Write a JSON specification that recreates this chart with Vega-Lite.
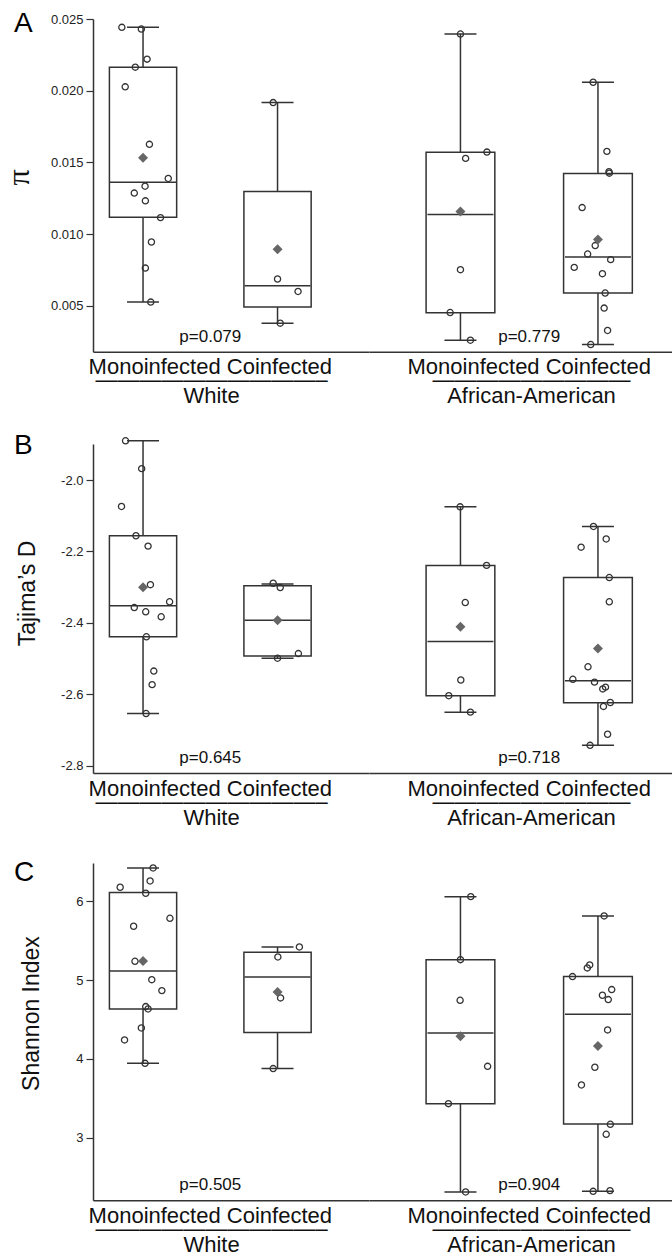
{
"$schema": "https://vega.github.io/schema/vega-lite/v6.json",
"background": "white",
"padding": {"left": 2, "top": 10, "right": 0, "bottom": 0},
"spacing": 25,
"config": {"font": "Liberation Sans", "view": {"stroke": null}, "axis": {"grid": false}},
"datasets": {
"points": [
{"panel":"A","race":"White","inf":"Monoinfected","v":0.02442,"jit":-0.63},
{"panel":"A","race":"White","inf":"Monoinfected","v":0.0243,"jit":-0.05},
{"panel":"A","race":"White","inf":"Monoinfected","v":0.0222,"jit":0.12},
{"panel":"A","race":"White","inf":"Monoinfected","v":0.02164,"jit":-0.23},
{"panel":"A","race":"White","inf":"Monoinfected","v":0.02027,"jit":-0.53},
{"panel":"A","race":"White","inf":"Monoinfected","v":0.01626,"jit":0.19},
{"panel":"A","race":"White","inf":"Monoinfected","v":0.01388,"jit":0.75},
{"panel":"A","race":"White","inf":"Monoinfected","v":0.01334,"jit":0.06},
{"panel":"A","race":"White","inf":"Monoinfected","v":0.01286,"jit":-0.26},
{"panel":"A","race":"White","inf":"Monoinfected","v":0.01232,"jit":0.07},
{"panel":"A","race":"White","inf":"Monoinfected","v":0.01115,"jit":0.52},
{"panel":"A","race":"White","inf":"Monoinfected","v":0.00945,"jit":0.25},
{"panel":"A","race":"White","inf":"Monoinfected","v":0.00763,"jit":0.07},
{"panel":"A","race":"White","inf":"Monoinfected","v":0.00526,"jit":0.23},
{"panel":"A","race":"White","inf":"Coinfected","v":0.01917,"jit":-0.13},
{"panel":"A","race":"White","inf":"Coinfected","v":0.00687,"jit":0.0},
{"panel":"A","race":"White","inf":"Coinfected","v":0.006,"jit":0.61},
{"panel":"A","race":"White","inf":"Coinfected","v":0.00379,"jit":0.08},
{"panel":"A","race":"African-American","inf":"Monoinfected","v":0.02395,"jit":0.0},
{"panel":"A","race":"African-American","inf":"Monoinfected","v":0.01572,"jit":0.77},
{"panel":"A","race":"African-American","inf":"Monoinfected","v":0.01528,"jit":0.15},
{"panel":"A","race":"African-American","inf":"Monoinfected","v":0.00752,"jit":0.0},
{"panel":"A","race":"African-American","inf":"Monoinfected","v":0.00453,"jit":-0.3},
{"panel":"A","race":"African-American","inf":"Monoinfected","v":0.0026,"jit":0.29},
{"panel":"A","race":"African-American","inf":"Coinfected","v":0.02059,"jit":-0.14},
{"panel":"A","race":"African-American","inf":"Coinfected","v":0.01577,"jit":0.26},
{"panel":"A","race":"African-American","inf":"Coinfected","v":0.01435,"jit":0.32},
{"panel":"A","race":"African-American","inf":"Coinfected","v":0.01425,"jit":0.33},
{"panel":"A","race":"African-American","inf":"Coinfected","v":0.01185,"jit":-0.46},
{"panel":"A","race":"African-American","inf":"Coinfected","v":0.0092,"jit":-0.08},
{"panel":"A","race":"African-American","inf":"Coinfected","v":0.00861,"jit":-0.3},
{"panel":"A","race":"African-American","inf":"Coinfected","v":0.00822,"jit":0.37},
{"panel":"A","race":"African-American","inf":"Coinfected","v":0.00768,"jit":-0.69},
{"panel":"A","race":"African-American","inf":"Coinfected","v":0.00724,"jit":0.13},
{"panel":"A","race":"African-American","inf":"Coinfected","v":0.00589,"jit":0.21},
{"panel":"A","race":"African-American","inf":"Coinfected","v":0.00484,"jit":0.18},
{"panel":"A","race":"African-American","inf":"Coinfected","v":0.00328,"jit":0.28},
{"panel":"A","race":"African-American","inf":"Coinfected","v":0.0023,"jit":-0.21},
{"panel":"B","race":"White","inf":"Monoinfected","v":-1.89,"jit":-0.52},
{"panel":"B","race":"White","inf":"Monoinfected","v":-1.968,"jit":-0.04},
{"panel":"B","race":"White","inf":"Monoinfected","v":-2.074,"jit":-0.64},
{"panel":"B","race":"White","inf":"Monoinfected","v":-2.156,"jit":-0.21},
{"panel":"B","race":"White","inf":"Monoinfected","v":-2.185,"jit":0.15},
{"panel":"B","race":"White","inf":"Monoinfected","v":-2.293,"jit":0.22},
{"panel":"B","race":"White","inf":"Monoinfected","v":-2.357,"jit":-0.26},
{"panel":"B","race":"White","inf":"Monoinfected","v":-2.369,"jit":0.08},
{"panel":"B","race":"White","inf":"Monoinfected","v":-2.341,"jit":0.79},
{"panel":"B","race":"White","inf":"Monoinfected","v":-2.383,"jit":0.54},
{"panel":"B","race":"White","inf":"Monoinfected","v":-2.439,"jit":0.1},
{"panel":"B","race":"White","inf":"Monoinfected","v":-2.535,"jit":0.32},
{"panel":"B","race":"White","inf":"Monoinfected","v":-2.573,"jit":0.27},
{"panel":"B","race":"White","inf":"Monoinfected","v":-2.654,"jit":0.09},
{"panel":"B","race":"White","inf":"Coinfected","v":-2.289,"jit":-0.13},
{"panel":"B","race":"White","inf":"Coinfected","v":-2.301,"jit":0.08},
{"panel":"B","race":"White","inf":"Coinfected","v":-2.486,"jit":0.62},
{"panel":"B","race":"White","inf":"Coinfected","v":-2.499,"jit":0.0},
{"panel":"B","race":"African-American","inf":"Monoinfected","v":-2.075,"jit":-0.01},
{"panel":"B","race":"African-American","inf":"Monoinfected","v":-2.239,"jit":0.76},
{"panel":"B","race":"African-American","inf":"Monoinfected","v":-2.343,"jit":0.14},
{"panel":"B","race":"African-American","inf":"Monoinfected","v":-2.56,"jit":0.01},
{"panel":"B","race":"African-American","inf":"Monoinfected","v":-2.604,"jit":-0.34},
{"panel":"B","race":"African-American","inf":"Monoinfected","v":-2.65,"jit":0.29},
{"panel":"B","race":"African-American","inf":"Coinfected","v":-2.13,"jit":-0.13},
{"panel":"B","race":"African-American","inf":"Coinfected","v":-2.165,"jit":0.24},
{"panel":"B","race":"African-American","inf":"Coinfected","v":-2.188,"jit":-0.49},
{"panel":"B","race":"African-American","inf":"Coinfected","v":-2.273,"jit":0.33},
{"panel":"B","race":"African-American","inf":"Coinfected","v":-2.341,"jit":0.33},
{"panel":"B","race":"African-American","inf":"Coinfected","v":-2.523,"jit":-0.29},
{"panel":"B","race":"African-American","inf":"Coinfected","v":-2.558,"jit":-0.73},
{"panel":"B","race":"African-American","inf":"Coinfected","v":-2.566,"jit":-0.1},
{"panel":"B","race":"African-American","inf":"Coinfected","v":-2.58,"jit":0.22},
{"panel":"B","race":"African-American","inf":"Coinfected","v":-2.585,"jit":0.14},
{"panel":"B","race":"African-American","inf":"Coinfected","v":-2.623,"jit":0.36},
{"panel":"B","race":"African-American","inf":"Coinfected","v":-2.634,"jit":0.16},
{"panel":"B","race":"African-American","inf":"Coinfected","v":-2.712,"jit":0.28},
{"panel":"B","race":"African-American","inf":"Coinfected","v":-2.743,"jit":-0.23},
{"panel":"C","race":"White","inf":"Monoinfected","v":6.423,"jit":0.3},
{"panel":"C","race":"White","inf":"Monoinfected","v":6.258,"jit":0.21},
{"panel":"C","race":"White","inf":"Monoinfected","v":6.178,"jit":-0.68},
{"panel":"C","race":"White","inf":"Monoinfected","v":6.102,"jit":0.08},
{"panel":"C","race":"White","inf":"Monoinfected","v":5.784,"jit":0.8},
{"panel":"C","race":"White","inf":"Monoinfected","v":5.683,"jit":-0.28},
{"panel":"C","race":"White","inf":"Monoinfected","v":5.238,"jit":-0.24},
{"panel":"C","race":"White","inf":"Monoinfected","v":5.005,"jit":0.26},
{"panel":"C","race":"White","inf":"Monoinfected","v":4.866,"jit":0.56},
{"panel":"C","race":"White","inf":"Monoinfected","v":4.663,"jit":0.08},
{"panel":"C","race":"White","inf":"Monoinfected","v":4.633,"jit":0.15},
{"panel":"C","race":"White","inf":"Monoinfected","v":4.392,"jit":-0.05},
{"panel":"C","race":"White","inf":"Monoinfected","v":4.24,"jit":-0.55},
{"panel":"C","race":"White","inf":"Monoinfected","v":3.943,"jit":0.06},
{"panel":"C","race":"White","inf":"Coinfected","v":5.42,"jit":0.65},
{"panel":"C","race":"White","inf":"Coinfected","v":5.293,"jit":0.01},
{"panel":"C","race":"White","inf":"Coinfected","v":4.773,"jit":0.09},
{"panel":"C","race":"White","inf":"Coinfected","v":3.876,"jit":-0.13},
{"panel":"C","race":"African-American","inf":"Monoinfected","v":6.059,"jit":0.3},
{"panel":"C","race":"African-American","inf":"Monoinfected","v":5.259,"jit":0.0},
{"panel":"C","race":"African-American","inf":"Monoinfected","v":4.743,"jit":-0.01},
{"panel":"C","race":"African-American","inf":"Monoinfected","v":3.905,"jit":0.79},
{"panel":"C","race":"African-American","inf":"Monoinfected","v":3.431,"jit":-0.35},
{"panel":"C","race":"African-American","inf":"Monoinfected","v":2.31,"jit":0.15},
{"panel":"C","race":"African-American","inf":"Coinfected","v":5.814,"jit":0.18},
{"panel":"C","race":"African-American","inf":"Coinfected","v":5.192,"jit":-0.24},
{"panel":"C","race":"African-American","inf":"Coinfected","v":5.154,"jit":-0.31},
{"panel":"C","race":"African-American","inf":"Coinfected","v":5.044,"jit":-0.74},
{"panel":"C","race":"African-American","inf":"Coinfected","v":4.879,"jit":0.4},
{"panel":"C","race":"African-American","inf":"Coinfected","v":4.807,"jit":0.13},
{"panel":"C","race":"African-American","inf":"Coinfected","v":4.752,"jit":0.3},
{"panel":"C","race":"African-American","inf":"Coinfected","v":4.367,"jit":0.28},
{"panel":"C","race":"African-American","inf":"Coinfected","v":3.893,"jit":-0.09},
{"panel":"C","race":"African-American","inf":"Coinfected","v":3.668,"jit":-0.48},
{"panel":"C","race":"African-American","inf":"Coinfected","v":3.169,"jit":0.36},
{"panel":"C","race":"African-American","inf":"Coinfected","v":3.042,"jit":0.24},
{"panel":"C","race":"African-American","inf":"Coinfected","v":2.318,"jit":-0.14},
{"panel":"C","race":"African-American","inf":"Coinfected","v":2.327,"jit":0.35}
],
"stats": [
{"panel":"A","race":"White","inf":"Monoinfected","lo":0.00526,"q1":0.01118,"med":0.01362,"q3":0.02164,"hi":0.02442,"mean":0.01533},
{"panel":"A","race":"White","inf":"Coinfected","lo":0.00379,"q1":0.00491,"med":0.0064,"q3":0.01297,"hi":0.01917,"mean":0.00894},
{"panel":"A","race":"African-American","inf":"Monoinfected","lo":0.0026,"q1":0.00451,"med":0.01136,"q3":0.0157,"hi":0.02395,"mean":0.01157},
{"panel":"A","race":"African-American","inf":"Coinfected","lo":0.0023,"q1":0.00589,"med":0.0084,"q3":0.01423,"hi":0.02059,"mean":0.00962},
{"panel":"B","race":"White","inf":"Monoinfected","lo":-2.654,"q1":-2.439,"med":-2.352,"q3":-2.156,"hi":-1.89,"mean":-2.3},
{"panel":"B","race":"White","inf":"Coinfected","lo":-2.499,"q1":-2.493,"med":-2.393,"q3":-2.296,"hi":-2.291,"mean":-2.393},
{"panel":"B","race":"African-American","inf":"Monoinfected","lo":-2.65,"q1":-2.604,"med":-2.452,"q3":-2.239,"hi":-2.075,"mean":-2.411},
{"panel":"B","race":"African-American","inf":"Coinfected","lo":-2.743,"q1":-2.624,"med":-2.562,"q3":-2.273,"hi":-2.13,"mean":-2.472},
{"panel":"C","race":"White","inf":"Monoinfected","lo":3.943,"q1":4.633,"med":5.116,"q3":6.11,"hi":6.423,"mean":5.242},
{"panel":"C","race":"White","inf":"Coinfected","lo":3.876,"q1":4.333,"med":5.039,"q3":5.353,"hi":5.42,"mean":4.849},
{"panel":"C","race":"African-American","inf":"Monoinfected","lo":2.31,"q1":3.431,"med":4.328,"q3":5.259,"hi":6.059,"mean":4.286},
{"panel":"C","race":"African-American","inf":"Coinfected","lo":2.318,"q1":3.173,"med":4.565,"q3":5.044,"hi":5.814,"mean":4.163}
],
"pvals": [
{"panel":"A","race":"White","p":"p=0.079"},
{"panel":"A","race":"African-American","p":"p=0.779"},
{"panel":"B","race":"White","p":"p=0.645"},
{"panel":"B","race":"African-American","p":"p=0.718"},
{"panel":"C","race":"White","p":"p=0.505"},
{"panel":"C","race":"African-American","p":"p=0.904"}
]
},
"vconcat": [
{
"title": {"text":"A","anchor":"start","frame":"group","fontSize":28,"fontWeight":"normal","color":"#000","dx":-79,"dy":47,"offset":0,"baseline":"alphabetic"},
"bounds":"flush","spacing":0,
"resolve":{"scale":{"x":"independent","y":"independent","xOffset":"independent"}},
"hconcat":[
{"width":276,"height":332.7,"resolve":{"scale":{"x":"independent","xOffset":"independent"}},"layer":[
{"layer":[
{"data":{"name":"stats"},"transform":[{"filter":"datum.panel=='A'&&datum.race=='White'"}],"mark":{"type":"rule","color":"#333","strokeWidth":1.5},
"encoding":{"x":{"field":"inf","type":"nominal","scale":{"domain":["Monoinfected","Coinfected"],"paddingInner":0.5,"paddingOuter":0.276,"align":0.221},
"axis":{"labelExpr":"datum.value == 'Monoinfected' ? 'Monoinfected Coinfected' : ''","labelOffset":67.25,"labelAngle":0,"labelFontSize":22,"labelColor":"#111","labelBaseline":"alphabetic","labelPadding":22,"labelLimit":0,"ticks":false,"tickSize":0,"domainColor":"#333","domainWidth":1.5,"labelOverlap":false,"labelBound":false,"labelFlush":false,
"title":["——————————–","White"],"titleFontSize":22,"titleFontWeight":"normal","titleColor":"#111","titleX":118,"titleY":35,"titleBaseline":"alphabetic","titleLineHeight":16}},
"y":{"field":"lo","type":"quantitative","scale":{"domain":[0.0018,0.025],"nice":false,"zero":false},
"axis":{"values":[0.005,0.01,0.015,0.02,0.025],"format":".3f","labelFontSize":13,"labelColor":"#222","labelPadding":3,"tickSize":7,"tickColor":"#333","tickWidth":1.2,"domainColor":"#333","domainWidth":1.5,"labelFlush":false,
"title":"π","titleFont":"Liberation Serif","titleFontSize":32,"titleFontWeight":"normal","titleColor":"#111","titleX":-65,"titleY":158,"titleBaseline":"alphabetic"}},
"y2":{"field":"hi"}}},
{"data":{"name":"stats"},"transform":[{"filter":"datum.panel=='A'&&datum.race=='White'"}],"mark":{"type":"bar","fill":"white","stroke":"#333","strokeWidth":1.5},
"encoding":{"x":{"field":"inf","type":"nominal"},"y":{"field":"q1","type":"quantitative"},"y2":{"field":"q3"}}},
{"data":{"name":"stats"},"transform":[{"filter":"datum.panel=='A'&&datum.race=='White'"}],"mark":{"type":"tick","color":"#333","size":66,"thickness":1.5,"opacity":1},
"encoding":{"x":{"field":"inf","type":"nominal"},"y":{"field":"med","type":"quantitative"}}},
{"data":{"name":"stats"},"transform":[{"filter":"datum.panel=='A'&&datum.race=='White'"}],"mark":{"type":"tick","color":"#333","size":32,"thickness":1.5,"opacity":1},
"encoding":{"x":{"field":"inf","type":"nominal"},"y":{"field":"lo","type":"quantitative"}}},
{"data":{"name":"stats"},"transform":[{"filter":"datum.panel=='A'&&datum.race=='White'"}],"mark":{"type":"tick","color":"#333","size":32,"thickness":1.5,"opacity":1},
"encoding":{"x":{"field":"inf","type":"nominal"},"y":{"field":"hi","type":"quantitative"}}},
{"data":{"name":"pvals"},"transform":[{"filter":"datum.panel=='A'&&datum.race=='White'"}],"mark":{"type":"text","fontSize":17,"dy":-10,"baseline":"alphabetic","color":"#111"},
"encoding":{"x":{"datum":"Monoinfected","bandPosition":1.5},"y":{"datum":0.0018},"text":{"field":"p"}}}
]},
{"data":{"name":"points"},"transform":[{"filter":"datum.panel=='A'&&datum.race=='White'"}],"mark":{"type":"point","shape":"circle","filled":false,"stroke":"#333","strokeWidth":1.3,"size":38,"opacity":1},
"encoding":{"x":{"field":"inf","type":"nominal","scale":{"type":"band","domain":["Monoinfected","Coinfected"],"paddingInner":0.5,"paddingOuter":0.276,"align":0.221},"axis":null},"xOffset":{"field":"jit","type":"quantitative","scale":{"domain":[-1,1],"nice":false,"zero":false}},"y":{"field":"v","type":"quantitative"}}},
{"data":{"name":"stats"},"transform":[{"filter":"datum.panel=='A'&&datum.race=='White'"}],"mark":{"type":"point","shape":"diamond","filled":true,"color":"#666","size":100,"opacity":1},
"encoding":{"x":{"field":"inf","type":"nominal","scale":{"type":"band","domain":["Monoinfected","Coinfected"],"paddingInner":0.5,"paddingOuter":0.276,"align":0.221},"axis":null},"y":{"field":"mean","type":"quantitative"}}}
]},
{"width":303,"height":332.7,"resolve":{"scale":{"x":"independent","xOffset":"independent"}},"layer":[
{"layer":[
{"data":{"name":"stats"},"transform":[{"filter":"datum.panel=='A'&&datum.race=='African-American'"}],"mark":{"type":"rule","color":"#333","strokeWidth":1.5},
"encoding":{"x":{"field":"inf","type":"nominal","scale":{"domain":["Monoinfected","Coinfected"],"paddingInner":0.5,"paddingOuter":0.3518,"align":0.59},
"axis":{"labelExpr":"datum.value == 'Monoinfected' ? 'Monoinfected Coinfected' : ''","labelOffset":68.75,"labelAngle":0,"labelFontSize":22,"labelColor":"#111","labelBaseline":"alphabetic","labelPadding":22,"labelLimit":0,"ticks":false,"tickSize":0,"domainColor":"#333","domainWidth":1.5,"labelOverlap":false,"labelBound":false,"labelFlush":false,
"title":["—————————","African-American"],"titleFontSize":22,"titleFontWeight":"normal","titleColor":"#111","titleX":162,"titleY":35,"titleBaseline":"alphabetic","titleLineHeight":16}},
"y":{"field":"lo","type":"quantitative","scale":{"domain":[0.0018,0.025],"nice":false,"zero":false},"axis":null},
"y2":{"field":"hi"}}},
{"data":{"name":"stats"},"transform":[{"filter":"datum.panel=='A'&&datum.race=='African-American'"}],"mark":{"type":"bar","fill":"white","stroke":"#333","strokeWidth":1.5},
"encoding":{"x":{"field":"inf","type":"nominal"},"y":{"field":"q1","type":"quantitative"},"y2":{"field":"q3"}}},
{"data":{"name":"stats"},"transform":[{"filter":"datum.panel=='A'&&datum.race=='African-American'"}],"mark":{"type":"tick","color":"#333","size":66,"thickness":1.5,"opacity":1},
"encoding":{"x":{"field":"inf","type":"nominal"},"y":{"field":"med","type":"quantitative"}}},
{"data":{"name":"stats"},"transform":[{"filter":"datum.panel=='A'&&datum.race=='African-American'"}],"mark":{"type":"tick","color":"#333","size":32,"thickness":1.5,"opacity":1},
"encoding":{"x":{"field":"inf","type":"nominal"},"y":{"field":"lo","type":"quantitative"}}},
{"data":{"name":"stats"},"transform":[{"filter":"datum.panel=='A'&&datum.race=='African-American'"}],"mark":{"type":"tick","color":"#333","size":32,"thickness":1.5,"opacity":1},
"encoding":{"x":{"field":"inf","type":"nominal"},"y":{"field":"hi","type":"quantitative"}}},
{"data":{"name":"pvals"},"transform":[{"filter":"datum.panel=='A'&&datum.race=='African-American'"}],"mark":{"type":"text","fontSize":17,"dy":-10,"baseline":"alphabetic","color":"#111"},
"encoding":{"x":{"datum":"Monoinfected","bandPosition":1.5},"y":{"datum":0.0018},"text":{"field":"p"}}}
]},
{"data":{"name":"points"},"transform":[{"filter":"datum.panel=='A'&&datum.race=='African-American'"}],"mark":{"type":"point","shape":"circle","filled":false,"stroke":"#333","strokeWidth":1.3,"size":38,"opacity":1},
"encoding":{"x":{"field":"inf","type":"nominal","scale":{"type":"band","domain":["Monoinfected","Coinfected"],"paddingInner":0.5,"paddingOuter":0.3518,"align":0.59},"axis":null},"xOffset":{"field":"jit","type":"quantitative","scale":{"domain":[-1,1],"nice":false,"zero":false}},"y":{"field":"v","type":"quantitative"}}},
{"data":{"name":"stats"},"transform":[{"filter":"datum.panel=='A'&&datum.race=='African-American'"}],"mark":{"type":"point","shape":"diamond","filled":true,"color":"#666","size":100,"opacity":1},
"encoding":{"x":{"field":"inf","type":"nominal","scale":{"type":"band","domain":["Monoinfected","Coinfected"],"paddingInner":0.5,"paddingOuter":0.3518,"align":0.59},"axis":null},"y":{"field":"mean","type":"quantitative"}}}
]}
]
},
{
"spacing": 31,
"vconcat": [
{
"title": {"text":"B","anchor":"start","frame":"group","fontSize":28,"fontWeight":"normal","color":"#000","dx":-79,"dy":47,"offset":0,"baseline":"alphabetic"},
"bounds":"flush","spacing":0,
"resolve":{"scale":{"x":"independent","y":"independent","xOffset":"independent"}},
"hconcat":[
{"width":276,"height":329,"resolve":{"scale":{"x":"independent","xOffset":"independent"}},"layer":[
{"layer":[
{"data":{"name":"stats"},"transform":[{"filter":"datum.panel=='B'&&datum.race=='White'"}],"mark":{"type":"rule","color":"#333","strokeWidth":1.5},
"encoding":{"x":{"field":"inf","type":"nominal","scale":{"domain":["Monoinfected","Coinfected"],"paddingInner":0.5,"paddingOuter":0.276,"align":0.221},
"axis":{"labelExpr":"datum.value == 'Monoinfected' ? 'Monoinfected Coinfected' : ''","labelOffset":67.25,"labelAngle":0,"labelFontSize":22,"labelColor":"#111","labelBaseline":"alphabetic","labelPadding":22,"labelLimit":0,"ticks":false,"tickSize":0,"domainColor":"#333","domainWidth":1.5,"labelOverlap":false,"labelBound":false,"labelFlush":false,
"title":["——————————–","White"],"titleFontSize":22,"titleFontWeight":"normal","titleColor":"#111","titleX":118,"titleY":35,"titleBaseline":"alphabetic","titleLineHeight":16}},
"y":{"field":"lo","type":"quantitative","scale":{"domain":[-2.8205,-1.899],"nice":false,"zero":false},
"axis":{"values":[-2.8,-2.6,-2.4,-2.2,-2.0],"labelExpr":"'-' + format(-datum.value, '.1f')","labelFontSize":13,"labelColor":"#222","labelPadding":3,"tickSize":7,"tickColor":"#333","tickWidth":1.2,"domainColor":"#333","domainWidth":1.5,"labelFlush":false,
"title":"Tajima’s D","titleFontSize":23,"titleFontWeight":"normal","titleColor":"#111","titleX":-59,"titleY":149,"titleBaseline":"alphabetic"}},
"y2":{"field":"hi"}}},
{"data":{"name":"stats"},"transform":[{"filter":"datum.panel=='B'&&datum.race=='White'"}],"mark":{"type":"bar","fill":"white","stroke":"#333","strokeWidth":1.5},
"encoding":{"x":{"field":"inf","type":"nominal"},"y":{"field":"q1","type":"quantitative"},"y2":{"field":"q3"}}},
{"data":{"name":"stats"},"transform":[{"filter":"datum.panel=='B'&&datum.race=='White'"}],"mark":{"type":"tick","color":"#333","size":66,"thickness":1.5,"opacity":1},
"encoding":{"x":{"field":"inf","type":"nominal"},"y":{"field":"med","type":"quantitative"}}},
{"data":{"name":"stats"},"transform":[{"filter":"datum.panel=='B'&&datum.race=='White'"}],"mark":{"type":"tick","color":"#333","size":32,"thickness":1.5,"opacity":1},
"encoding":{"x":{"field":"inf","type":"nominal"},"y":{"field":"lo","type":"quantitative"}}},
{"data":{"name":"stats"},"transform":[{"filter":"datum.panel=='B'&&datum.race=='White'"}],"mark":{"type":"tick","color":"#333","size":32,"thickness":1.5,"opacity":1},
"encoding":{"x":{"field":"inf","type":"nominal"},"y":{"field":"hi","type":"quantitative"}}},
{"data":{"name":"pvals"},"transform":[{"filter":"datum.panel=='B'&&datum.race=='White'"}],"mark":{"type":"text","fontSize":17,"dy":-10,"baseline":"alphabetic","color":"#111"},
"encoding":{"x":{"datum":"Monoinfected","bandPosition":1.5},"y":{"datum":-2.8205},"text":{"field":"p"}}}
]},
{"data":{"name":"points"},"transform":[{"filter":"datum.panel=='B'&&datum.race=='White'"}],"mark":{"type":"point","shape":"circle","filled":false,"stroke":"#333","strokeWidth":1.3,"size":38,"opacity":1},
"encoding":{"x":{"field":"inf","type":"nominal","scale":{"type":"band","domain":["Monoinfected","Coinfected"],"paddingInner":0.5,"paddingOuter":0.276,"align":0.221},"axis":null},"xOffset":{"field":"jit","type":"quantitative","scale":{"domain":[-1,1],"nice":false,"zero":false}},"y":{"field":"v","type":"quantitative"}}},
{"data":{"name":"stats"},"transform":[{"filter":"datum.panel=='B'&&datum.race=='White'"}],"mark":{"type":"point","shape":"diamond","filled":true,"color":"#666","size":100,"opacity":1},
"encoding":{"x":{"field":"inf","type":"nominal","scale":{"type":"band","domain":["Monoinfected","Coinfected"],"paddingInner":0.5,"paddingOuter":0.276,"align":0.221},"axis":null},"y":{"field":"mean","type":"quantitative"}}}
]},
{"width":303,"height":329,"resolve":{"scale":{"x":"independent","xOffset":"independent"}},"layer":[
{"layer":[
{"data":{"name":"stats"},"transform":[{"filter":"datum.panel=='B'&&datum.race=='African-American'"}],"mark":{"type":"rule","color":"#333","strokeWidth":1.5},
"encoding":{"x":{"field":"inf","type":"nominal","scale":{"domain":["Monoinfected","Coinfected"],"paddingInner":0.5,"paddingOuter":0.3518,"align":0.59},
"axis":{"labelExpr":"datum.value == 'Monoinfected' ? 'Monoinfected Coinfected' : ''","labelOffset":68.75,"labelAngle":0,"labelFontSize":22,"labelColor":"#111","labelBaseline":"alphabetic","labelPadding":22,"labelLimit":0,"ticks":false,"tickSize":0,"domainColor":"#333","domainWidth":1.5,"labelOverlap":false,"labelBound":false,"labelFlush":false,
"title":["—————————","African-American"],"titleFontSize":22,"titleFontWeight":"normal","titleColor":"#111","titleX":162,"titleY":35,"titleBaseline":"alphabetic","titleLineHeight":16}},
"y":{"field":"lo","type":"quantitative","scale":{"domain":[-2.8205,-1.899],"nice":false,"zero":false},"axis":null},
"y2":{"field":"hi"}}},
{"data":{"name":"stats"},"transform":[{"filter":"datum.panel=='B'&&datum.race=='African-American'"}],"mark":{"type":"bar","fill":"white","stroke":"#333","strokeWidth":1.5},
"encoding":{"x":{"field":"inf","type":"nominal"},"y":{"field":"q1","type":"quantitative"},"y2":{"field":"q3"}}},
{"data":{"name":"stats"},"transform":[{"filter":"datum.panel=='B'&&datum.race=='African-American'"}],"mark":{"type":"tick","color":"#333","size":66,"thickness":1.5,"opacity":1},
"encoding":{"x":{"field":"inf","type":"nominal"},"y":{"field":"med","type":"quantitative"}}},
{"data":{"name":"stats"},"transform":[{"filter":"datum.panel=='B'&&datum.race=='African-American'"}],"mark":{"type":"tick","color":"#333","size":32,"thickness":1.5,"opacity":1},
"encoding":{"x":{"field":"inf","type":"nominal"},"y":{"field":"lo","type":"quantitative"}}},
{"data":{"name":"stats"},"transform":[{"filter":"datum.panel=='B'&&datum.race=='African-American'"}],"mark":{"type":"tick","color":"#333","size":32,"thickness":1.5,"opacity":1},
"encoding":{"x":{"field":"inf","type":"nominal"},"y":{"field":"hi","type":"quantitative"}}},
{"data":{"name":"pvals"},"transform":[{"filter":"datum.panel=='B'&&datum.race=='African-American'"}],"mark":{"type":"text","fontSize":17,"dy":-10,"baseline":"alphabetic","color":"#111"},
"encoding":{"x":{"datum":"Monoinfected","bandPosition":1.5},"y":{"datum":-2.8205},"text":{"field":"p"}}}
]},
{"data":{"name":"points"},"transform":[{"filter":"datum.panel=='B'&&datum.race=='African-American'"}],"mark":{"type":"point","shape":"circle","filled":false,"stroke":"#333","strokeWidth":1.3,"size":38,"opacity":1},
"encoding":{"x":{"field":"inf","type":"nominal","scale":{"type":"band","domain":["Monoinfected","Coinfected"],"paddingInner":0.5,"paddingOuter":0.3518,"align":0.59},"axis":null},"xOffset":{"field":"jit","type":"quantitative","scale":{"domain":[-1,1],"nice":false,"zero":false}},"y":{"field":"v","type":"quantitative"}}},
{"data":{"name":"stats"},"transform":[{"filter":"datum.panel=='B'&&datum.race=='African-American'"}],"mark":{"type":"point","shape":"diamond","filled":true,"color":"#666","size":100,"opacity":1},
"encoding":{"x":{"field":"inf","type":"nominal","scale":{"type":"band","domain":["Monoinfected","Coinfected"],"paddingInner":0.5,"paddingOuter":0.3518,"align":0.59},"axis":null},"y":{"field":"mean","type":"quantitative"}}}
]}
]
},
{
"title": {"text":"C","anchor":"start","frame":"group","fontSize":28,"fontWeight":"normal","color":"#000","dx":-79,"dy":47,"offset":0,"baseline":"alphabetic"},
"bounds":"flush","spacing":0,
"resolve":{"scale":{"x":"independent","y":"independent","xOffset":"independent"}},
"hconcat":[
{"width":276,"height":337.3,"resolve":{"scale":{"x":"independent","xOffset":"independent"}},"layer":[
{"layer":[
{"data":{"name":"stats"},"transform":[{"filter":"datum.panel=='C'&&datum.race=='White'"}],"mark":{"type":"rule","color":"#333","strokeWidth":1.5},
"encoding":{"x":{"field":"inf","type":"nominal","scale":{"domain":["Monoinfected","Coinfected"],"paddingInner":0.5,"paddingOuter":0.276,"align":0.221},
"axis":{"labelExpr":"datum.value == 'Monoinfected' ? 'Monoinfected Coinfected' : ''","labelOffset":67.25,"labelAngle":0,"labelFontSize":22,"labelColor":"#111","labelBaseline":"alphabetic","labelPadding":22,"labelLimit":0,"ticks":false,"tickSize":0,"domainColor":"#333","domainWidth":1.5,"labelOverlap":false,"labelBound":false,"labelFlush":false,
"title":["——————————–","White"],"titleFontSize":22,"titleFontWeight":"normal","titleColor":"#111","titleX":118,"titleY":35,"titleBaseline":"alphabetic","titleLineHeight":16}},
"y":{"field":"lo","type":"quantitative","scale":{"domain":[2.204,6.486],"nice":false,"zero":false},
"axis":{"values":[3,4,5,6],"format":"d","labelFontSize":13,"labelColor":"#222","labelPadding":3,"tickSize":7,"tickColor":"#333","tickWidth":1.2,"domainColor":"#333","domainWidth":1.5,"labelFlush":false,
"title":"Shannon Index","titleFontSize":23,"titleFontWeight":"normal","titleColor":"#111","titleX":-55,"titleY":150,"titleBaseline":"alphabetic"}},
"y2":{"field":"hi"}}},
{"data":{"name":"stats"},"transform":[{"filter":"datum.panel=='C'&&datum.race=='White'"}],"mark":{"type":"bar","fill":"white","stroke":"#333","strokeWidth":1.5},
"encoding":{"x":{"field":"inf","type":"nominal"},"y":{"field":"q1","type":"quantitative"},"y2":{"field":"q3"}}},
{"data":{"name":"stats"},"transform":[{"filter":"datum.panel=='C'&&datum.race=='White'"}],"mark":{"type":"tick","color":"#333","size":66,"thickness":1.5,"opacity":1},
"encoding":{"x":{"field":"inf","type":"nominal"},"y":{"field":"med","type":"quantitative"}}},
{"data":{"name":"stats"},"transform":[{"filter":"datum.panel=='C'&&datum.race=='White'"}],"mark":{"type":"tick","color":"#333","size":32,"thickness":1.5,"opacity":1},
"encoding":{"x":{"field":"inf","type":"nominal"},"y":{"field":"lo","type":"quantitative"}}},
{"data":{"name":"stats"},"transform":[{"filter":"datum.panel=='C'&&datum.race=='White'"}],"mark":{"type":"tick","color":"#333","size":32,"thickness":1.5,"opacity":1},
"encoding":{"x":{"field":"inf","type":"nominal"},"y":{"field":"hi","type":"quantitative"}}},
{"data":{"name":"pvals"},"transform":[{"filter":"datum.panel=='C'&&datum.race=='White'"}],"mark":{"type":"text","fontSize":17,"dy":-10,"baseline":"alphabetic","color":"#111"},
"encoding":{"x":{"datum":"Monoinfected","bandPosition":1.5},"y":{"datum":2.204},"text":{"field":"p"}}}
]},
{"data":{"name":"points"},"transform":[{"filter":"datum.panel=='C'&&datum.race=='White'"}],"mark":{"type":"point","shape":"circle","filled":false,"stroke":"#333","strokeWidth":1.3,"size":38,"opacity":1},
"encoding":{"x":{"field":"inf","type":"nominal","scale":{"type":"band","domain":["Monoinfected","Coinfected"],"paddingInner":0.5,"paddingOuter":0.276,"align":0.221},"axis":null},"xOffset":{"field":"jit","type":"quantitative","scale":{"domain":[-1,1],"nice":false,"zero":false}},"y":{"field":"v","type":"quantitative"}}},
{"data":{"name":"stats"},"transform":[{"filter":"datum.panel=='C'&&datum.race=='White'"}],"mark":{"type":"point","shape":"diamond","filled":true,"color":"#666","size":100,"opacity":1},
"encoding":{"x":{"field":"inf","type":"nominal","scale":{"type":"band","domain":["Monoinfected","Coinfected"],"paddingInner":0.5,"paddingOuter":0.276,"align":0.221},"axis":null},"y":{"field":"mean","type":"quantitative"}}}
]},
{"width":303,"height":337.3,"resolve":{"scale":{"x":"independent","xOffset":"independent"}},"layer":[
{"layer":[
{"data":{"name":"stats"},"transform":[{"filter":"datum.panel=='C'&&datum.race=='African-American'"}],"mark":{"type":"rule","color":"#333","strokeWidth":1.5},
"encoding":{"x":{"field":"inf","type":"nominal","scale":{"domain":["Monoinfected","Coinfected"],"paddingInner":0.5,"paddingOuter":0.3518,"align":0.59},
"axis":{"labelExpr":"datum.value == 'Monoinfected' ? 'Monoinfected Coinfected' : ''","labelOffset":68.75,"labelAngle":0,"labelFontSize":22,"labelColor":"#111","labelBaseline":"alphabetic","labelPadding":22,"labelLimit":0,"ticks":false,"tickSize":0,"domainColor":"#333","domainWidth":1.5,"labelOverlap":false,"labelBound":false,"labelFlush":false,
"title":["—————————","African-American"],"titleFontSize":22,"titleFontWeight":"normal","titleColor":"#111","titleX":162,"titleY":35,"titleBaseline":"alphabetic","titleLineHeight":16}},
"y":{"field":"lo","type":"quantitative","scale":{"domain":[2.204,6.486],"nice":false,"zero":false},"axis":null},
"y2":{"field":"hi"}}},
{"data":{"name":"stats"},"transform":[{"filter":"datum.panel=='C'&&datum.race=='African-American'"}],"mark":{"type":"bar","fill":"white","stroke":"#333","strokeWidth":1.5},
"encoding":{"x":{"field":"inf","type":"nominal"},"y":{"field":"q1","type":"quantitative"},"y2":{"field":"q3"}}},
{"data":{"name":"stats"},"transform":[{"filter":"datum.panel=='C'&&datum.race=='African-American'"}],"mark":{"type":"tick","color":"#333","size":66,"thickness":1.5,"opacity":1},
"encoding":{"x":{"field":"inf","type":"nominal"},"y":{"field":"med","type":"quantitative"}}},
{"data":{"name":"stats"},"transform":[{"filter":"datum.panel=='C'&&datum.race=='African-American'"}],"mark":{"type":"tick","color":"#333","size":32,"thickness":1.5,"opacity":1},
"encoding":{"x":{"field":"inf","type":"nominal"},"y":{"field":"lo","type":"quantitative"}}},
{"data":{"name":"stats"},"transform":[{"filter":"datum.panel=='C'&&datum.race=='African-American'"}],"mark":{"type":"tick","color":"#333","size":32,"thickness":1.5,"opacity":1},
"encoding":{"x":{"field":"inf","type":"nominal"},"y":{"field":"hi","type":"quantitative"}}},
{"data":{"name":"pvals"},"transform":[{"filter":"datum.panel=='C'&&datum.race=='African-American'"}],"mark":{"type":"text","fontSize":17,"dy":-10,"baseline":"alphabetic","color":"#111"},
"encoding":{"x":{"datum":"Monoinfected","bandPosition":1.5},"y":{"datum":2.204},"text":{"field":"p"}}}
]},
{"data":{"name":"points"},"transform":[{"filter":"datum.panel=='C'&&datum.race=='African-American'"}],"mark":{"type":"point","shape":"circle","filled":false,"stroke":"#333","strokeWidth":1.3,"size":38,"opacity":1},
"encoding":{"x":{"field":"inf","type":"nominal","scale":{"type":"band","domain":["Monoinfected","Coinfected"],"paddingInner":0.5,"paddingOuter":0.3518,"align":0.59},"axis":null},"xOffset":{"field":"jit","type":"quantitative","scale":{"domain":[-1,1],"nice":false,"zero":false}},"y":{"field":"v","type":"quantitative"}}},
{"data":{"name":"stats"},"transform":[{"filter":"datum.panel=='C'&&datum.race=='African-American'"}],"mark":{"type":"point","shape":"diamond","filled":true,"color":"#666","size":100,"opacity":1},
"encoding":{"x":{"field":"inf","type":"nominal","scale":{"type":"band","domain":["Monoinfected","Coinfected"],"paddingInner":0.5,"paddingOuter":0.3518,"align":0.59},"axis":null},"y":{"field":"mean","type":"quantitative"}}}
]}
]
}
]
}
]
}
